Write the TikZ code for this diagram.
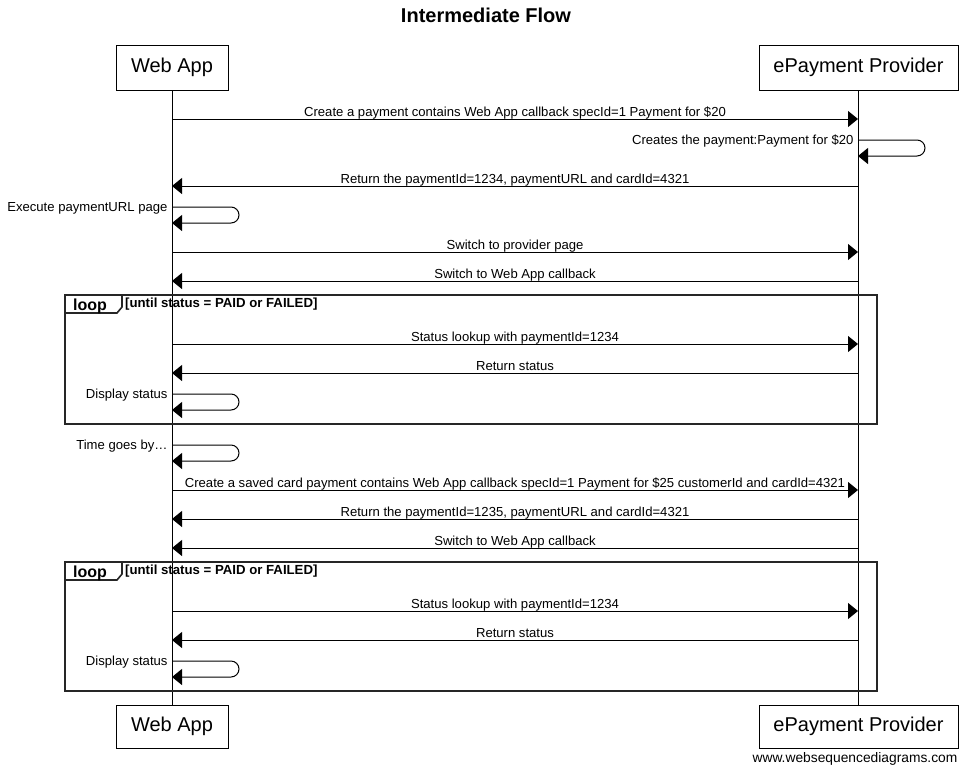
\documentclass[tikz,border=0pt]{standalone}
\usepackage{fontspec}
\setmainfont{Liberation Sans}
\usetikzlibrary{arrows.meta}
\begin{document}
\begin{tikzpicture}[x=1pt,y=-1pt,
  actor/.style={draw,line width=1pt,fill=white,inner sep=0pt,font=\fontsize{20}{24}\selectfont,minimum height=45pt},
  lifeline/.style={line width=1pt},
  msg/.style={line width=1pt,-{Triangle[length=10pt,width=16pt]}},
  selfmsg/.style={msg,rounded corners=8pt},
  lbl/.style={anchor=base,yshift=3pt,inner sep=0pt,font=\fontsize{13.1}{15}\selectfont},
  slbl/.style={anchor=base east,xshift=-4pt,yshift=-4pt,inner sep=0pt,font=\fontsize{13.1}{15}\selectfont},
  frame/.style={line width=1.6pt,draw=black!85},
  tabtxt/.style={inner sep=0pt,anchor=base,font=\bfseries\fontsize{16}{18}\selectfont},
  condtxt/.style={inner sep=0pt,anchor=base west,font=\bfseries\fontsize{13.2}{15}\selectfont}]
\useasboundingbox (0,0) rectangle (972,777);
% title
\node[font=\bfseries\fontsize{20}{24}\selectfont] (title) at (486,15) {Intermediate Flow};
% actors
\node[actor,minimum width=112pt] (wa) at (172,67.5) {Web App};
\node[actor,minimum width=199pt] (pp) at (858.5,67.5) {ePayment Provider};
\node[actor,minimum width=112pt,minimum height=43pt] (wab) at (172,726.5) {Web App};
\node[actor,minimum width=199pt,minimum height=43pt] (ppb) at (858.5,726.5) {ePayment Provider};
\draw[lifeline] (172,90) -- (172,705);
\draw[lifeline] (858,90) -- (858,705);
% loop frames
\draw[frame] (65,295) rectangle (877,424);
\draw[frame] (65,313) -- (117,313) -- (122,307) -- (122,295);
\node[tabtxt] (loop1) at (90,310) {loop};
\node[condtxt] (cond1) at (125,307) {[until status = PAID or FAILED]};
\draw[frame] (65,562) rectangle (877,691);
\draw[frame] (65,580) -- (117,580) -- (122,574) -- (122,562);
\node[tabtxt] (loop2) at (90,577) {loop};
\node[condtxt] (cond2) at (125,574) {[until status = PAID or FAILED]};
% coordinates on lifelines
\foreach \n/\y in {1/119,2/140,3/186,4/207,5/252,6/281,7/344,8/373,9/394,10/445,11/490,12/519,13/548,14/611,15/640,16/661}{
  \coordinate (a\n) at (172,\y);
  \coordinate (b\n) at (858,\y);
}
\foreach \n/\y in {2/156,4/223,9/410,10/461,16/677}{
  \coordinate (a\n r) at (172,\y);
  \coordinate (b\n r) at (858,\y);
}
% messages
\draw[msg] (a1) -- node[lbl]{Create a payment contains Web App callback specId=1 Payment for \$20} (b1);
\draw[selfmsg] (b2) node[slbl]{Creates the payment:Payment for \$20} -- ++(67,0) -- ++(0,16) -- (b2r);
\draw[msg] (b3) -- node[lbl]{Return the paymentId=1234, paymentURL and cardId=4321} (a3);
\draw[selfmsg] (a4) node[slbl]{Execute paymentURL page} -- ++(67,0) -- ++(0,16) -- (a4r);
\draw[msg] (a5) -- node[lbl]{Switch to provider page} (b5);
\draw[msg] (b6) -- node[lbl]{Switch to Web App callback} (a6);
\draw[msg] (a7) -- node[lbl]{Status lookup with paymentId=1234} (b7);
\draw[msg] (b8) -- node[lbl]{Return status} (a8);
\draw[selfmsg] (a9) node[slbl]{Display status} -- ++(67,0) -- ++(0,16) -- (a9r);
\draw[selfmsg] (a10) node[slbl]{Time goes by…} -- ++(67,0) -- ++(0,16) -- (a10r);
\draw[msg] (a11) -- node[lbl]{Create a saved card payment contains Web App callback specId=1 Payment for \$25 customerId and cardId=4321} (b11);
\draw[msg] (b12) -- node[lbl]{Return the paymentId=1235, paymentURL and cardId=4321} (a12);
\draw[msg] (b13) -- node[lbl]{Switch to Web App callback} (a13);
\draw[msg] (a14) -- node[lbl]{Status lookup with paymentId=1234} (b14);
\draw[msg] (b15) -- node[lbl]{Return status} (a15);
\draw[selfmsg] (a16) node[slbl]{Display status} -- ++(67,0) -- ++(0,16) -- (a16r);
% footer
\node[inner sep=0pt,anchor=base,font=\fontsize{13.8}{15}\selectfont] (footer) at (855,762) {www.websequencediagrams.com};
\end{tikzpicture}
\end{document}
